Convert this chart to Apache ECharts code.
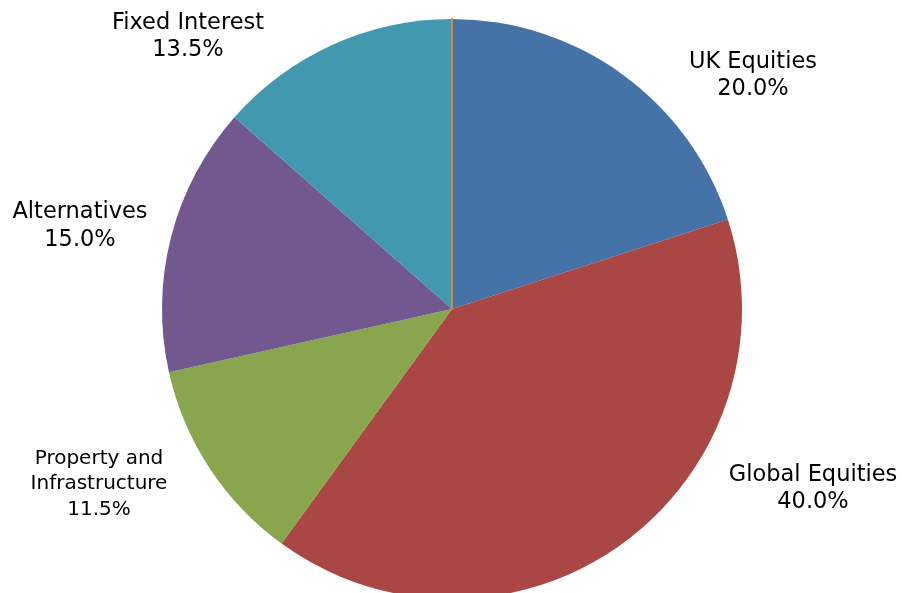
<!DOCTYPE html>
<html>
<head>
<meta charset="utf-8">
<script src="https://cdn.jsdelivr.net/npm/echarts@6/dist/echarts.min.js"></script>
<style>
html,body{margin:0;padding:0;background:#fff;}
#chart{width:902px;height:593px;}
</style>
</head>
<body>
<div id="chart"></div>
<script>
// Data
const categories = ['UK Equities', 'Global Equities', 'Property and\nInfrastructure', 'Alternatives', 'Fixed Interest', 'Cash'];
const values = [20.0, 40.0, 11.5, 15.0, 13.5, 0.0];

// Styles
const colors = ['#4572A7', '#AA4643', '#89A54E', '#71588F', '#4198AF', '#DB843D'];
const labelCenters = [[753, 76], [813, 489], [99, 484], [80, 226], [188, 37], [452, 0]];
const labelSizes = [22.5, 22.5, 20, 22.5, 22.5, 22.5];
const lineHeights = [27, 27, 25.5, 28, 27, 27];

const chart = echarts.init(document.getElementById('chart'), null, {renderer: 'canvas'});
chart.setOption({
  animation: false,
  backgroundColor: '#ffffff',
  series: [{
    type: 'pie',
    center: [452, 309],
    radius: [0, 290],
    startAngle: 90,
    clockwise: true,
    minAngle: 0,
    avoidLabelOverlap: false,
    labelLine: {show: false},
    label: {
      show: true,
      position: 'outside',
      fontFamily: 'DejaVu Sans',
      color: '#000',
      align: 'center',
      formatter: p => p.name + '\n' + p.value.toFixed(1) + '%'
    },
    labelLayout: p => ({
      x: labelCenters[p.dataIndex][0],
      y: labelCenters[p.dataIndex][1],
      align: 'center',
      verticalAlign: 'middle'
    }),
    emphasis: {disabled: true},
    data: categories.map((c, i) => ({
      name: c,
      value: values[i],
      itemStyle: i === 5
        ? {color: colors[i], borderColor: colors[i], borderWidth: 2}
        : {color: colors[i], borderWidth: 0},
      label: i === 5
        ? {show: false}
        : {fontSize: labelSizes[i], lineHeight: lineHeights[i]}
    }))
  }]
});
</script>
</body>
</html>
